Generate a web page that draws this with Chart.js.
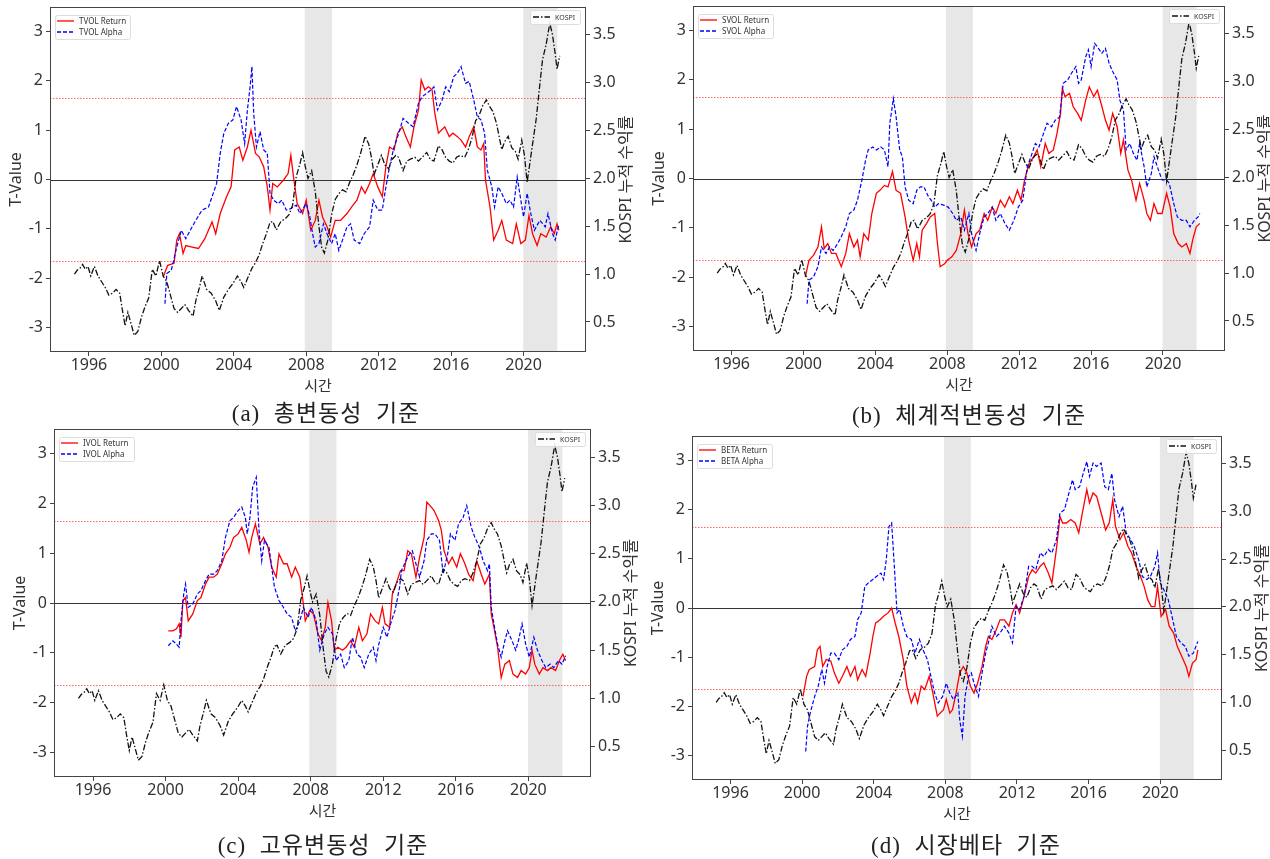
<!DOCTYPE html>
<html>
<head>
<meta charset="utf-8">
<script src="https://cdn.jsdelivr.net/npm/chart.js@4"></script>
<style>
  body { margin: 0; background: #fff; width: 1270px; height: 859px; position: relative; overflow: hidden; }
  .panel { position: absolute; }
  .cap { position: absolute; transform: translate(-50%, -50%); white-space: pre;
         font-family: "Liberation Serif", "Noto Sans CJK KR", serif; font-size: 23px; color: #222; letter-spacing: 1px; }
</style>
</head>
<body>
<div id="root"></div>
<script>
// ── data ───────────────────────────────────────────────────────────────────
const xTicks = [1996, 2000, 2004, 2008, 2012, 2016, 2020];
const tTicks = [-3, -2, -1, 0, 1, 2, 3];
const kospiTicks = [0.5, 1.0, 1.5, 2.0, 2.5, 3.0, 3.5];
const critLevels = [-1.65, 1.65];
const zeroLevel = 0;
const shadePeriods = [[2007.92, 2009.42], [2019.98, 2021.87]];
const captions = ['(a)  총변동성  기준', '(b)  체계적변동성  기준', '(c)  고유변동성  기준', '(d)  시장베타  기준'];
const factorNames = ['TVOL', 'SVOL', 'IVOL', 'BETA'];

// KOSPI cumulative return [year, value]
const kospi = [
  [1995.2,1.00],[1995.35,1.04],[1995.5,1.06],[1995.65,1.10],[1995.8,1.05],[1995.95,1.08],[1996.1,0.98],[1996.3,1.08],
  [1996.5,0.98],[1996.7,0.92],[1996.9,0.86],[1997.1,0.78],[1997.3,0.80],[1997.5,0.84],[1997.7,0.80],[1997.85,0.62],
  [1998.0,0.46],[1998.15,0.60],[1998.3,0.50],[1998.5,0.36],[1998.7,0.40],[1998.9,0.55],[1999.1,0.66],[1999.3,0.75],
  [1999.5,1.05],[1999.7,0.98],[1999.9,1.14],[2000.1,0.98],[2000.3,0.92],[2000.5,0.78],[2000.7,0.64],[2000.9,0.60],
  [2001.1,0.64],[2001.3,0.68],[2001.5,0.62],[2001.75,0.56],[2001.9,0.72],[2002.1,0.86],[2002.25,0.98],[2002.5,0.84],
  [2002.75,0.80],[2003.0,0.72],[2003.2,0.62],[2003.45,0.76],[2003.7,0.84],[2003.95,0.90],[2004.2,0.98],[2004.4,0.92],
  [2004.55,0.86],[2004.75,0.95],[2005.0,1.06],[2005.2,1.12],[2005.4,1.20],[2005.6,1.32],[2005.8,1.42],[2006.0,1.54],
  [2006.15,1.55],[2006.35,1.46],[2006.6,1.55],[2006.85,1.58],[2007.05,1.62],[2007.25,1.72],[2007.45,2.02],[2007.65,2.15],
  [2007.8,2.27],[2007.95,2.12],[2008.1,2.00],[2008.3,2.08],[2008.5,1.86],[2008.7,1.50],[2008.85,1.28],[2009.0,1.22],
  [2009.2,1.36],[2009.4,1.62],[2009.6,1.78],[2009.8,1.84],[2010.0,1.88],[2010.2,1.86],[2010.4,1.96],[2010.6,2.04],
  [2010.8,2.14],[2011.0,2.26],[2011.25,2.44],[2011.45,2.36],[2011.6,2.22],[2011.75,2.04],[2011.95,2.14],[2012.15,2.24],
  [2012.35,2.14],[2012.55,2.10],[2012.75,2.20],[2012.95,2.24],[2013.1,2.22],[2013.35,2.08],[2013.55,2.18],[2013.75,2.20],
  [2014.0,2.22],[2014.2,2.18],[2014.4,2.22],[2014.65,2.27],[2014.85,2.20],[2015.05,2.18],[2015.3,2.34],[2015.5,2.30],
  [2015.7,2.22],[2015.9,2.18],[2016.1,2.16],[2016.3,2.22],[2016.5,2.24],[2016.75,2.22],[2016.95,2.30],[2017.15,2.42],
  [2017.35,2.60],[2017.55,2.66],[2017.75,2.76],[2017.95,2.82],[2018.1,2.76],[2018.3,2.70],[2018.5,2.58],[2018.65,2.44],
  [2018.8,2.30],[2018.95,2.38],[2019.15,2.44],[2019.35,2.32],[2019.55,2.28],[2019.7,2.20],[2019.9,2.40],[2020.05,2.24],
  [2020.2,1.96],[2020.35,2.16],[2020.5,2.36],[2020.7,2.62],[2020.9,2.98],[2021.05,3.24],[2021.25,3.40],[2021.45,3.62],
  [2021.6,3.50],[2021.75,3.30],[2021.85,3.14],[2022.0,3.28]
];

// (a) TVOL
const tvolReturn = [
  [2000.1,-1.98],[2000.35,-1.74],[2000.7,-1.70],[2000.85,-1.23],[2001.0,-1.10],[2001.2,-1.50],[2001.35,-1.34],[2001.7,-1.37],
  [2002.05,-1.40],[2002.4,-1.20],[2002.6,-1.03],[2002.8,-0.86],[2003.0,-1.10],[2003.25,-0.69],[2003.6,-0.35],[2003.85,-0.15],
  [2004.05,0.60],[2004.3,0.66],[2004.5,0.39],[2004.75,0.66],[2004.95,1.00],[2005.2,0.53],[2005.4,0.46],[2005.65,0.26],
  [2005.85,-0.15],[2006.0,-0.62],[2006.15,-0.08],[2006.4,-0.15],[2006.75,-0.01],[2007.0,0.12],[2007.15,0.49],[2007.3,0.05],
  [2007.5,-0.49],[2007.8,-0.69],[2008.0,-0.42],[2008.25,-1.03],[2008.5,-0.83],[2008.7,-0.42],[2008.9,-0.76],[2009.15,-0.96],
  [2009.35,-1.17],[2009.6,-0.83],[2009.9,-0.83],[2010.25,-0.69],[2010.5,-0.56],[2010.8,-0.42],[2011.05,-0.15],[2011.25,-0.28],
  [2011.5,-0.08],[2011.7,0.12],[2011.95,-0.15],[2012.2,-0.35],[2012.4,0.26],[2012.6,0.66],[2012.85,0.60],[2013.05,0.94],
  [2013.3,1.07],[2013.5,0.87],[2013.75,0.66],[2013.95,1.07],[2014.2,1.41],[2014.35,2.02],[2014.55,1.82],[2014.75,1.88],
  [2014.95,1.82],[2015.1,1.34],[2015.3,0.94],[2015.65,1.07],[2015.9,0.87],[2016.1,0.94],[2016.35,0.87],[2016.55,0.80],
  [2016.8,0.66],[2017.0,0.87],[2017.25,1.07],[2017.45,0.66],[2017.65,0.60],[2017.8,0.73],[2017.9,-0.01],[2018.15,-0.56],
  [2018.35,-1.23],[2018.6,-1.03],[2018.8,-0.83],[2019.05,-1.23],[2019.4,-1.30],[2019.6,-0.90],[2019.85,-1.30],[2020.1,-1.23],
  [2020.3,-0.73],[2020.5,-1.10],[2020.75,-1.34],[2020.95,-1.10],[2021.25,-1.17],[2021.5,-0.96],[2021.7,-1.10],[2021.85,-0.90],
  [2021.95,-1.03]
];
const tvolAlpha = [
  [2000.2,-2.52],[2000.3,-1.91],[2000.55,-1.84],[2000.85,-1.37],[2001.1,-1.03],[2001.35,-1.20],[2001.7,-0.96],[2001.9,-0.83],
  [2002.25,-0.62],[2002.6,-0.56],[2002.8,-0.35],[2003.05,-0.08],[2003.25,0.53],[2003.45,0.94],[2003.7,1.14],[2003.95,1.21],
  [2004.15,1.48],[2004.4,1.21],[2004.6,0.73],[2004.75,1.41],[2004.9,1.88],[2005.0,2.29],[2005.1,1.34],[2005.25,0.66],
  [2005.45,0.97],[2005.65,0.60],[2005.85,0.53],[2006.0,-0.28],[2006.2,-0.42],[2006.45,-0.49],[2006.65,-0.42],[2006.9,-0.62],
  [2007.15,-0.59],[2007.45,-0.52],[2007.65,-0.69],[2008.0,-0.49],[2008.2,-0.76],[2008.35,-1.10],[2008.5,-1.37],[2008.7,-1.30],
  [2008.95,-0.90],[2009.15,-1.10],[2009.4,-1.30],[2009.6,-1.10],[2009.8,-1.44],[2010.0,-1.23],[2010.25,-0.96],[2010.45,-0.90],
  [2010.65,-1.23],[2010.95,-1.30],[2011.2,-1.10],[2011.5,-0.96],[2011.7,-0.42],[2011.95,-0.62],[2012.2,-0.62],[2012.4,-0.15],
  [2012.6,0.26],[2012.85,0.66],[2013.05,0.87],[2013.35,1.24],[2013.65,1.14],[2013.9,1.07],[2014.2,1.55],[2014.4,1.68],
  [2014.65,1.75],[2014.9,1.82],[2015.05,1.88],[2015.25,1.41],[2015.5,1.61],[2015.7,1.88],[2015.9,1.78],[2016.15,2.09],
  [2016.35,2.16],[2016.55,2.29],[2016.8,1.95],[2017.0,1.99],[2017.25,1.61],[2017.45,1.27],[2017.65,1.21],[2017.85,0.94],
  [2018.0,0.19],[2018.25,-0.15],[2018.4,-0.56],[2018.6,-0.15],[2018.8,-0.28],[2019.05,-0.49],[2019.25,-0.42],[2019.45,-0.56],
  [2019.65,0.05],[2019.85,-0.42],[2020.0,-0.76],[2020.2,-0.28],[2020.4,-0.69],[2020.6,-1.03],[2020.9,-0.83],[2021.2,-0.96],
  [2021.35,-0.69],[2021.6,-1.10],[2021.75,-1.23],[2021.95,-0.90]
];

// (b) SVOL
const svolReturn = [
  [2000.1,-2.00],[2000.3,-1.66],[2000.55,-1.56],[2000.8,-1.39],[2001.0,-0.98],[2001.15,-1.42],[2001.35,-1.32],[2001.55,-1.52],
  [2001.8,-1.52],[2002.1,-1.79],[2002.35,-1.52],[2002.55,-1.12],[2002.8,-1.39],[2003.0,-1.25],[2003.15,-1.59],[2003.35,-1.12],
  [2003.6,-1.25],[2003.8,-0.71],[2004.05,-0.30],[2004.25,-0.24],[2004.5,-0.14],[2004.7,-0.17],[2004.95,0.14],[2005.15,-0.24],
  [2005.4,-0.30],[2005.65,-0.78],[2005.85,-1.25],[2006.1,-1.66],[2006.3,-1.32],[2006.45,-1.59],[2006.6,-1.05],[2006.85,-0.91],
  [2007.05,-0.78],[2007.3,-0.71],[2007.45,-1.32],[2007.6,-1.79],[2007.85,-1.73],[2008.0,-1.66],[2008.25,-1.59],[2008.5,-1.46],
  [2008.75,-1.12],[2008.95,-0.64],[2009.15,-1.12],[2009.35,-1.39],[2009.6,-1.12],[2009.8,-1.05],[2010.05,-0.71],[2010.25,-0.85],
  [2010.5,-0.58],[2010.7,-0.71],[2010.95,-0.44],[2011.2,-0.58],[2011.45,-0.37],[2011.65,-0.51],[2011.9,-0.24],[2012.1,-0.44],
  [2012.3,-0.03],[2012.55,0.30],[2012.8,0.44],[2013.0,0.58],[2013.2,0.24],[2013.45,0.71],[2013.65,0.51],[2013.9,0.58],
  [2014.1,0.91],[2014.3,1.32],[2014.4,1.83],[2014.55,1.66],[2014.8,1.73],[2015.0,1.46],[2015.25,1.32],[2015.45,1.18],
  [2015.7,1.59],[2015.9,1.86],[2016.15,1.66],[2016.35,1.79],[2016.6,1.46],[2016.8,1.18],[2017.0,0.98],[2017.2,1.32],
  [2017.45,1.05],[2017.65,0.51],[2017.8,0.78],[2018.05,0.17],[2018.25,-0.03],[2018.5,-0.44],[2018.7,-0.10],[2018.95,-0.44],
  [2019.1,-0.71],[2019.3,-0.85],[2019.5,-0.51],[2019.7,-0.71],[2019.95,-0.71],[2020.2,-0.30],[2020.4,-0.58],[2020.6,-1.12],
  [2020.85,-1.32],[2021.05,-1.39],[2021.3,-1.32],[2021.5,-1.52],[2021.65,-1.25],[2021.85,-0.98],[2022.05,-0.91]
];
const svolAlpha = [
  [2000.2,-2.54],[2000.3,-2.06],[2000.55,-2.00],[2000.8,-1.79],[2001.0,-1.39],[2001.25,-1.52],[2001.45,-1.39],[2001.65,-1.46],
  [2001.9,-1.32],[2002.1,-1.18],[2002.35,-0.98],[2002.55,-0.71],[2002.8,-0.64],[2003.0,-0.44],[2003.25,-0.03],[2003.45,0.37],
  [2003.6,0.58],[2003.85,0.64],[2004.05,0.58],[2004.3,0.64],[2004.5,0.58],[2004.7,0.24],[2004.8,1.12],[2005.0,1.62],
  [2005.15,1.25],[2005.35,0.58],[2005.5,0.44],[2005.65,-0.17],[2005.85,-0.44],[2006.1,-0.51],[2006.3,-0.24],[2006.5,-0.17],
  [2006.7,-0.17],[2006.95,-0.37],[2007.1,-0.44],[2007.3,-0.58],[2007.5,-0.51],[2007.8,-0.54],[2008.05,-0.58],[2008.3,-0.71],
  [2008.5,-0.85],[2008.75,-0.78],[2008.95,-1.05],[2009.2,-0.71],[2009.35,-1.12],[2009.6,-1.46],[2009.8,-1.12],[2010.05,-0.78],
  [2010.25,-0.71],[2010.5,-0.58],[2010.7,-0.85],[2010.95,-0.71],[2011.2,-0.91],[2011.45,-1.05],[2011.7,-0.85],[2011.95,-0.58],
  [2012.2,-0.44],[2012.45,0.24],[2012.65,0.44],[2012.9,0.71],[2013.1,0.64],[2013.35,0.91],[2013.55,1.12],[2013.8,1.05],
  [2014.0,1.18],[2014.25,1.25],[2014.45,1.93],[2014.7,2.00],[2014.9,2.13],[2015.15,2.27],[2015.3,1.93],[2015.45,2.00],
  [2015.7,2.47],[2015.85,2.61],[2016.0,2.27],[2016.2,2.74],[2016.35,2.67],[2016.6,2.54],[2016.8,2.64],[2017.0,2.34],
  [2017.2,2.17],[2017.45,2.00],[2017.6,1.59],[2017.8,1.39],[2017.95,0.58],[2018.15,0.71],[2018.35,0.51],[2018.55,0.37],
  [2018.7,0.71],[2018.95,0.24],[2019.1,-0.17],[2019.35,0.10],[2019.5,0.44],[2019.75,0.17],[2019.95,-0.03],[2020.2,-0.03],
  [2020.35,-0.10],[2020.6,-0.51],[2020.8,-0.78],[2021.05,-0.85],[2021.3,-0.85],[2021.5,-0.98],[2021.75,-0.85],[2021.95,-0.78],
  [2022.05,-0.71]
];

// (c) IVOL
const ivolReturn = [
  [2000.15,-0.56],[2000.4,-0.56],[2000.6,-0.52],[2000.75,-0.42],[2000.85,-0.69],[2000.95,0.05],[2001.1,0.11],[2001.25,-0.36],
  [2001.5,-0.22],[2001.75,0.05],[2001.95,0.11],[2002.2,0.38],[2002.4,0.52],[2002.65,0.52],[2002.85,0.58],[2003.1,0.79],
  [2003.3,0.99],[2003.55,1.12],[2003.75,1.32],[2004.0,1.39],[2004.2,1.52],[2004.45,1.26],[2004.6,1.02],[2004.75,1.32],
  [2004.95,1.59],[2005.2,1.19],[2005.4,1.32],[2005.65,1.12],[2005.85,0.72],[2006.1,0.52],[2006.25,0.99],[2006.5,0.79],
  [2006.7,0.79],[2006.95,0.52],[2007.15,0.72],[2007.4,0.52],[2007.55,0.11],[2007.7,-0.36],[2007.95,-0.15],[2008.15,-0.22],
  [2008.4,-0.62],[2008.6,-0.76],[2008.8,-0.49],[2008.95,0.01],[2009.15,-0.36],[2009.3,-0.95],[2009.5,-0.89],[2009.75,-0.95],
  [2009.95,-0.89],[2010.2,-0.76],[2010.4,-0.89],[2010.65,-0.49],[2010.85,-0.76],[2011.1,-0.62],[2011.3,-0.22],[2011.55,-0.36],
  [2011.75,-0.42],[2011.95,-0.09],[2012.1,-0.42],[2012.35,-0.49],[2012.5,0.18],[2012.7,0.38],[2012.95,0.65],[2013.15,0.65],
  [2013.35,1.05],[2013.55,0.99],[2013.8,0.52],[2014.0,0.92],[2014.25,1.32],[2014.4,2.03],[2014.65,1.93],[2014.8,1.86],
  [2015.05,1.66],[2015.2,1.46],[2015.35,1.05],[2015.6,0.79],[2015.8,0.92],[2016.05,0.72],[2016.25,0.99],[2016.5,0.79],
  [2016.7,0.58],[2016.95,0.45],[2017.15,0.85],[2017.4,0.58],[2017.6,0.38],[2017.85,0.58],[2017.95,-0.22],[2018.1,-0.49],
  [2018.3,-0.89],[2018.5,-1.50],[2018.7,-1.23],[2018.95,-1.16],[2019.15,-1.43],[2019.4,-1.50],[2019.6,-1.36],[2019.85,-1.43],
  [2020.05,-1.30],[2020.2,-0.95],[2020.35,-1.23],[2020.6,-1.43],[2020.8,-1.30],[2021.05,-1.36],[2021.25,-1.30],[2021.5,-1.36],
  [2021.7,-1.16],[2021.9,-1.03],[2022.05,-1.16]
];
const ivolAlpha = [
  [2000.15,-0.86],[2000.4,-0.76],[2000.6,-0.83],[2000.75,-0.89],[2000.85,-0.36],[2001.0,0.18],[2001.1,0.38],[2001.25,-0.09],
  [2001.5,-0.02],[2001.75,0.18],[2001.95,0.25],[2002.2,0.45],[2002.4,0.58],[2002.65,0.58],[2002.85,0.65],[2003.1,0.85],
  [2003.3,1.32],[2003.55,1.66],[2003.75,1.72],[2004.0,1.86],[2004.2,1.93],[2004.4,1.72],[2004.5,1.39],[2004.65,1.72],
  [2004.8,2.33],[2005.0,2.53],[2005.15,1.46],[2005.3,0.85],[2005.45,1.26],[2005.7,1.12],[2005.85,0.72],[2006.0,0.32],
  [2006.25,0.05],[2006.5,-0.09],[2006.7,-0.22],[2006.95,-0.29],[2007.15,-0.56],[2007.4,-0.36],[2007.6,-0.09],[2007.85,-0.29],
  [2008.05,-0.09],[2008.3,-0.36],[2008.5,-0.95],[2008.75,-0.62],[2008.95,-0.49],[2009.2,-0.62],[2009.4,-1.16],[2009.65,-1.03],
  [2009.85,-1.30],[2010.1,-1.16],[2010.3,-0.69],[2010.55,-1.03],[2010.75,-1.09],[2010.95,-1.30],[2011.2,-1.03],[2011.45,-0.89],
  [2011.6,-1.16],[2011.75,-0.83],[2012.0,-0.49],[2012.2,-0.69],[2012.45,-0.36],[2012.65,-0.15],[2012.9,0.32],[2013.0,0.65],
  [2013.25,0.85],[2013.45,0.99],[2013.6,1.05],[2013.8,0.79],[2014.0,0.52],[2014.25,0.85],[2014.4,1.26],[2014.65,1.39],
  [2014.85,1.39],[2015.1,1.26],[2015.3,0.58],[2015.55,0.99],[2015.7,1.39],[2015.95,1.26],[2016.15,1.59],[2016.4,1.72],
  [2016.6,1.96],[2016.85,1.52],[2017.05,1.32],[2017.3,1.12],[2017.5,0.85],[2017.75,0.65],[2017.85,0.79],[2017.95,-0.09],
  [2018.1,-0.42],[2018.3,-0.83],[2018.5,-1.09],[2018.7,-0.76],[2018.85,-0.56],[2019.1,-0.76],[2019.3,-0.95],[2019.45,-0.76],
  [2019.65,-0.42],[2019.85,-0.83],[2020.05,-1.09],[2020.3,-0.69],[2020.5,-0.95],[2020.75,-1.16],[2020.95,-1.30],[2021.2,-1.23],
  [2021.4,-1.30],[2021.65,-1.16],[2021.85,-1.23],[2022.05,-1.06]
];

// (d) BETA
const betaReturn = [
  [2000.05,-1.80],[2000.25,-1.39],[2000.4,-1.25],[2000.7,-1.19],[2000.85,-0.85],[2001.0,-0.78],[2001.15,-1.19],[2001.35,-1.05],
  [2001.6,-1.08],[2001.8,-1.32],[2002.05,-1.53],[2002.25,-1.39],[2002.5,-1.19],[2002.7,-1.39],[2002.95,-1.19],[2003.1,-1.46],
  [2003.35,-1.25],[2003.55,-1.39],[2003.8,-0.92],[2003.95,-0.58],[2004.1,-0.31],[2004.35,-0.24],[2004.55,-0.17],[2004.8,-0.10],
  [2005.0,0.00],[2005.2,-0.31],[2005.4,-0.58],[2005.65,-1.05],[2005.85,-1.59],[2006.1,-1.93],[2006.3,-1.73],[2006.45,-1.93],
  [2006.65,-1.59],[2006.85,-1.66],[2007.1,-1.39],[2007.3,-1.73],[2007.55,-2.20],[2007.7,-2.14],[2007.9,-2.07],[2008.05,-1.86],
  [2008.25,-2.14],[2008.4,-2.07],[2008.6,-1.73],[2008.8,-1.32],[2009.0,-1.19],[2009.2,-1.32],[2009.4,-1.59],[2009.6,-1.73],
  [2009.8,-1.53],[2010.05,-1.19],[2010.25,-0.78],[2010.4,-0.58],[2010.6,-0.64],[2010.85,-0.44],[2011.05,-0.24],[2011.3,-0.24],
  [2011.55,-0.37],[2011.75,-0.10],[2011.95,0.07],[2012.15,-0.10],[2012.4,0.24],[2012.65,0.64],[2012.85,0.78],[2013.05,0.71],
  [2013.3,0.85],[2013.5,0.92],[2013.75,0.71],[2013.95,0.51],[2014.2,1.19],[2014.4,1.86],[2014.55,1.73],[2014.75,1.73],
  [2015.0,1.80],[2015.25,1.73],[2015.45,1.53],[2015.65,1.93],[2015.9,2.41],[2016.05,2.14],[2016.25,2.34],[2016.45,2.27],
  [2016.65,2.00],[2016.8,1.80],[2016.95,1.59],[2017.15,1.73],[2017.35,2.20],[2017.5,1.66],[2017.75,1.39],[2017.95,1.53],
  [2018.2,1.25],[2018.4,1.12],[2018.65,0.85],[2018.9,0.64],[2019.1,0.44],[2019.3,0.17],[2019.5,0.03],[2019.7,0.03],
  [2019.85,0.44],[2020.05,-0.17],[2020.3,-0.03],[2020.5,-0.37],[2020.75,-0.51],[2020.95,-0.78],[2021.2,-0.98],[2021.45,-1.19],
  [2021.6,-1.39],[2021.8,-1.12],[2022.0,-1.05],[2022.1,-0.85]
];
const betaAlpha = [
  [2000.2,-2.92],[2000.3,-2.41],[2000.45,-2.14],[2000.7,-1.80],[2000.9,-1.59],[2001.1,-1.25],[2001.25,-1.53],[2001.4,-1.19],
  [2001.6,-0.92],[2001.8,-0.92],[2002.05,-1.05],[2002.25,-0.85],[2002.5,-0.78],[2002.7,-0.64],[2002.95,-0.58],[2003.1,-0.24],
  [2003.3,-0.10],[2003.5,0.44],[2003.7,0.51],[2003.95,0.58],[2004.15,0.64],[2004.4,0.71],[2004.55,0.58],[2004.7,0.98],
  [2004.85,1.66],[2005.0,1.73],[2005.15,0.85],[2005.3,-0.10],[2005.45,-0.03],[2005.65,-0.37],[2005.85,-0.58],[2006.1,-0.64],
  [2006.3,-0.92],[2006.55,-0.64],[2006.75,-0.85],[2007.0,-1.05],[2007.15,-1.32],[2007.4,-1.73],[2007.6,-1.93],[2007.85,-1.80],
  [2008.05,-1.53],[2008.25,-1.73],[2008.45,-1.86],[2008.7,-1.73],[2008.8,-2.27],[2008.95,-2.61],[2009.1,-1.80],[2009.3,-1.39],
  [2009.45,-1.32],[2009.6,-1.53],[2009.85,-1.80],[2010.05,-1.32],[2010.25,-0.92],[2010.45,-0.64],[2010.6,-0.37],[2010.85,-0.58],
  [2011.05,-0.51],[2011.3,-0.37],[2011.55,-0.51],[2011.75,-0.71],[2011.95,0.03],[2012.15,-0.03],[2012.4,0.24],[2012.65,0.85],
  [2012.85,0.85],[2013.05,0.78],[2013.3,1.12],[2013.5,1.05],[2013.75,1.19],[2013.95,1.12],[2014.2,1.39],[2014.4,1.93],
  [2014.65,2.00],[2014.85,2.27],[2015.1,2.61],[2015.25,2.41],[2015.5,2.47],[2015.7,2.74],[2015.9,2.98],[2016.05,2.68],
  [2016.25,2.95],[2016.45,2.88],[2016.7,2.95],[2016.9,2.47],[2017.1,2.41],[2017.3,2.74],[2017.45,2.20],[2017.7,1.86],
  [2017.9,2.07],[2018.1,1.53],[2018.35,1.39],[2018.55,1.25],[2018.8,0.98],[2019.0,0.64],[2019.25,0.58],[2019.45,0.64],
  [2019.7,0.85],[2019.85,1.12],[2020.0,0.51],[2020.2,0.37],[2020.45,0.17],[2020.7,-0.24],[2020.9,-0.58],[2021.15,-0.71],
  [2021.4,-0.78],[2021.6,-0.98],[2021.85,-0.92],[2022.1,-0.68]
];

const returnSeries = [tvolReturn, svolReturn, ivolReturn, betaReturn];
const alphaSeries = [tvolAlpha, svolAlpha, ivolAlpha, betaAlpha];

// ── layout / style ─────────────────────────────────────────────────────────
const panelLayout = [
  { left: 0,   top: 0,   w: 640, h: 400, area: { l: 50, r: 586, t: 7,  b: 352 }, cap: [326, 411] },
  { left: 640, top: 0,   w: 630, h: 400, area: { l: 53, r: 585, t: 6,  b: 351 }, cap: [329, 413] },
  { left: 0,   top: 420, w: 640, h: 400, area: { l: 54, r: 591, t: 9,  b: 357 }, cap: [323, 423] },
  { left: 640, top: 420, w: 630, h: 400, area: { l: 52, r: 582, t: 16, b: 360 }, cap: [326, 423] },
];
const RED = '#ff0000', BLUE = '#0000ff', BLACK = '#111';
const DASH_ALPHA = [4, 2], DASH_KOSPI = [6, 2, 1.5, 2];
const TICK_FONT = { family: 'Noto Sans', size: 16 };
const AXIS_COLOR = '#444';

const xy = arr => arr.map(([x, y]) => ({ x, y }));

// ─── Plugin: shading, reference lines, frame, titles, legends ─────────────
const decorPlugin = {
  id: 'decor',
  beforeDatasetsDraw(chart) {
    const { ctx, chartArea: a, scales: { x, y } } = chart;
    ctx.save();
    ctx.fillStyle = '#e7e7e7';
    shadePeriods.forEach(([s, e]) => {
      const x0 = x.getPixelForValue(s), x1 = x.getPixelForValue(e);
      ctx.fillRect(x0, a.top, x1 - x0, a.bottom - a.top);
    });
    ctx.lineWidth = 1;
    ctx.strokeStyle = 'rgba(255,40,40,0.7)';
    ctx.setLineDash([1.5, 1.5]);
    critLevels.forEach(v => {
      const py = Math.round(y.getPixelForValue(v)) + 0.5;
      ctx.beginPath(); ctx.moveTo(a.left, py); ctx.lineTo(a.right, py); ctx.stroke();
    });
    ctx.setLineDash([]);
    ctx.strokeStyle = '#333';
    const pz = Math.round(y.getPixelForValue(zeroLevel)) + 0.5;
    ctx.beginPath(); ctx.moveTo(a.left, pz); ctx.lineTo(a.right, pz); ctx.stroke();
    ctx.restore();
  },
  afterDraw(chart) {
    const { ctx, chartArea: a } = chart;
    const name = chart.options.plugins.decor.name;
    ctx.save();
    // frame
    ctx.strokeStyle = AXIS_COLOR; ctx.lineWidth = 1;
    ctx.strokeRect(a.left + 0.5, a.top + 0.5, a.right - a.left - 1, a.bottom - a.top - 1);

    // axis titles
    ctx.fillStyle = '#333';
    ctx.textAlign = 'center'; ctx.textBaseline = 'middle';
    const midY = (a.top + a.bottom) / 2;
    ctx.font = '16px "Noto Sans", "Noto Sans CJK KR"';
    ctx.save(); ctx.translate(a.left - 34, midY); ctx.rotate(-Math.PI / 2); ctx.fillText('T-Value', 0, 0); ctx.restore();
    ctx.save(); ctx.translate(a.right + 40, midY); ctx.rotate(-Math.PI / 2); ctx.fillText('KOSPI 누적 수익률', 0, 0); ctx.restore();
    ctx.font = '15px "Noto Sans CJK KR"';
    ctx.fillText('시간', (a.left + a.right) / 2, a.bottom + 33);

    // legend: return / alpha
    const lx = a.left + 5, ly = a.top + 8;
    drawBox(ctx, lx, ly, 75, 24);
    ctx.lineWidth = 1.3;
    ctx.strokeStyle = RED; ctx.beginPath(); ctx.moveTo(lx + 2, ly + 6); ctx.lineTo(lx + 19, ly + 6); ctx.stroke();
    ctx.strokeStyle = BLUE; ctx.setLineDash(DASH_ALPHA); ctx.beginPath(); ctx.moveTo(lx + 2, ly + 17); ctx.lineTo(lx + 19, ly + 17); ctx.stroke();
    ctx.setLineDash([]);
    ctx.fillStyle = '#333'; ctx.font = '8px "Noto Sans"'; ctx.textAlign = 'left';
    ctx.fillText(name + ' Return', lx + 24, ly + 6.5);
    ctx.fillText(name + ' Alpha', lx + 24, ly + 17.5);

    // legend: kospi
    const kx = a.right - 56, ky = a.top + 3;
    drawBox(ctx, kx, ky, 50, 14);
    ctx.strokeStyle = BLACK; ctx.setLineDash(DASH_KOSPI); ctx.lineWidth = 1.3;
    ctx.beginPath(); ctx.moveTo(kx + 3, ky + 7); ctx.lineTo(kx + 20, ky + 7); ctx.stroke();
    ctx.setLineDash([]);
    ctx.font = '7px "Noto Sans"';
    ctx.fillText('KOSPI', kx + 25, ky + 7.5);
    ctx.restore();
  }
};

function drawBox(ctx, x, y, w, h) {
  ctx.save();
  ctx.fillStyle = 'rgba(255,255,255,0.85)';
  ctx.strokeStyle = '#ddd'; ctx.lineWidth = 1;
  ctx.beginPath(); ctx.roundRect(x + 0.5, y + 0.5, w, h, 2); ctx.fill(); ctx.stroke();
  ctx.restore();
}

// ─── Build panels ──────────────────────────────────────────────────────────
const root = document.getElementById('root');

panelLayout.forEach((p, i) => {
  const div = document.createElement('div');
  div.className = 'panel';
  div.style.cssText = `left:${p.left}px;top:${p.top}px;width:${p.w}px;height:${p.h + 40}px`;
  const canvas = document.createElement('canvas');
  canvas.width = p.w; canvas.height = p.h;
  div.appendChild(canvas);
  const cap = document.createElement('div');
  cap.className = 'cap';
  cap.style.left = p.cap[0] + 'px';
  cap.style.top = p.cap[1] + 'px';
  cap.textContent = captions[i];
  div.appendChild(cap);
  root.appendChild(div);

  const A = p.area;
  const tickGrid = { display: true, drawOnChartArea: false, drawTicks: true, tickLength: 4, color: AXIS_COLOR };

  new Chart(canvas, {
    type: 'line',
    data: {
      datasets: [
        { label: 'KOSPI', data: xy(kospi), yAxisID: 'y1', borderColor: BLACK, borderWidth: 1.3, borderDash: DASH_KOSPI },
        { label: factorNames[i] + ' Alpha', data: xy(alphaSeries[i]), yAxisID: 'y', borderColor: BLUE, borderWidth: 1.2, borderDash: DASH_ALPHA },
        { label: factorNames[i] + ' Return', data: xy(returnSeries[i]), yAxisID: 'y', borderColor: RED, borderWidth: 1.3 },
      ]
    },
    options: {
      responsive: false,
      animation: false,
      events: [],
      elements: { point: { radius: 0 }, line: { tension: 0, fill: false } },
      layout: { padding: { top: A.t, left: 0, right: 0, bottom: 0 } },
      plugins: { legend: { display: false }, tooltip: { enabled: false }, decor: { name: factorNames[i] } },
      scales: {
        x: {
          type: 'linear', min: 1993.85, max: 2023.45,
          afterBuildTicks: s => { s.ticks = xTicks.map(v => ({ value: v })); },
          afterFit: s => { s.height = p.h - A.b; s.paddingLeft = 0; s.paddingRight = 0; },
          grid: tickGrid, border: { display: false },
          ticks: { font: TICK_FONT, color: '#333', padding: 0, maxRotation: 0, callback: v => String(v) }
        },
        y: {
          position: 'left', min: -3.5, max: 3.5,
          afterBuildTicks: s => { s.ticks = tTicks.map(v => ({ value: v })); },
          afterFit: s => { s.width = A.l; s.paddingTop = 0; s.paddingBottom = 0; },
          grid: tickGrid, border: { display: false },
          ticks: { font: TICK_FONT, color: '#333', padding: 3, callback: v => String(v) }
        },
        y1: {
          position: 'right', min: 0.186, max: 3.79,
          afterBuildTicks: s => { s.ticks = kospiTicks.map(v => ({ value: v })); },
          afterFit: s => { s.width = p.w - A.r; s.paddingTop = 0; s.paddingBottom = 0; },
          grid: tickGrid, border: { display: false },
          ticks: { font: TICK_FONT, color: '#333', padding: 3, callback: v => v.toFixed(1) }
        }
      }
    },
    plugins: [decorPlugin]
  });
});
</script>
</body>
</html>
